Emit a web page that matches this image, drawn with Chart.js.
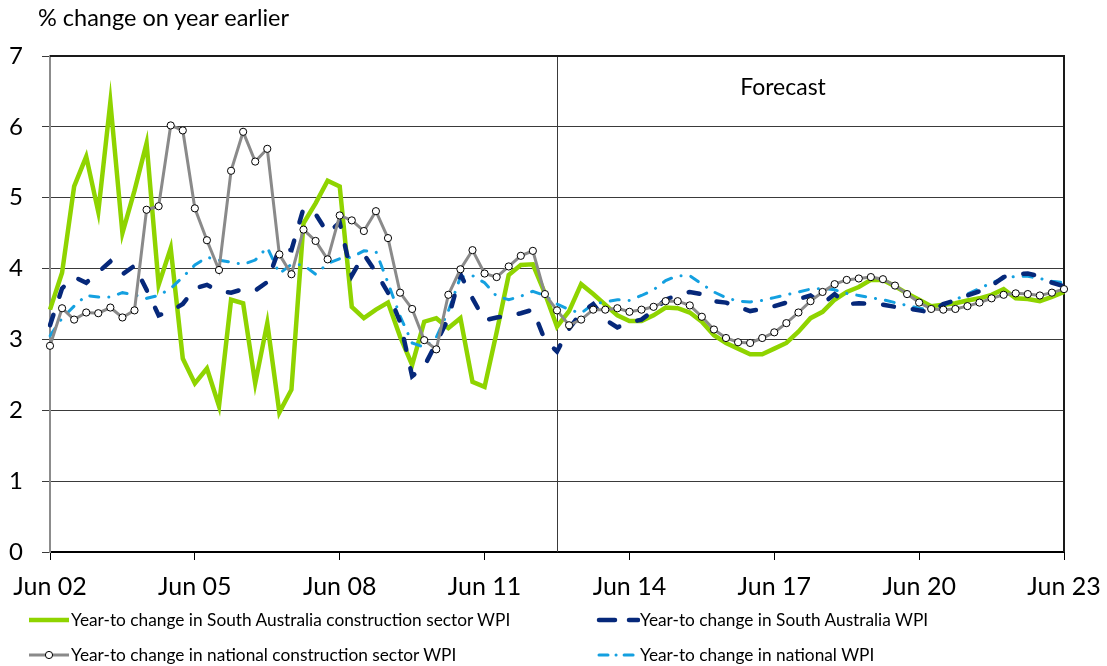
<!DOCTYPE html>
<html><head><meta charset="utf-8">
<script src="https://cdn.jsdelivr.net/npm/chart.js@4.4.1/dist/chart.umd.min.js"></script>
<style>
html,body{margin:0;padding:0;background:#fff;}
#wrap{position:relative;width:1107px;height:666px;font-family:Lato,"Open Sans",sans-serif;color:#000;}
#title{position:absolute;left:38px;top:3px;font-size:23.5px;white-space:nowrap;}
.leg{position:absolute;font-size:17.3px;white-space:nowrap;display:flex;align-items:center;}
.leg svg{display:block;}
</style></head>
<body>
<div id="wrap">
<canvas id="c" width="1107" height="666"></canvas>
<div id="title">% change on year earlier</div>
<div id="legend"></div>
</div>
<script>
// ---- data ----
const categories = [
'Jun 02','Sep 02','Dec 02','Mar 03','Jun 03','Sep 03','Dec 03','Mar 04','Jun 04','Sep 04','Dec 04','Mar 05',
'Jun 05','Sep 05','Dec 05','Mar 06','Jun 06','Sep 06','Dec 06','Mar 07','Jun 07','Sep 07','Dec 07','Mar 08',
'Jun 08','Sep 08','Dec 08','Mar 09','Jun 09','Sep 09','Dec 09','Mar 10','Jun 10','Sep 10','Dec 10','Mar 11',
'Jun 11','Sep 11','Dec 11','Mar 12','Jun 12','Sep 12','Dec 12','Mar 13','Jun 13','Sep 13','Dec 13','Mar 14',
'Jun 14','Sep 14','Dec 14','Mar 15','Jun 15','Sep 15','Dec 15','Mar 16','Jun 16','Sep 16','Dec 16','Mar 17',
'Jun 17','Sep 17','Dec 17','Mar 18','Jun 18','Sep 18','Dec 18','Mar 19','Jun 19','Sep 19','Dec 19','Mar 20',
'Jun 20','Sep 20','Dec 20','Mar 21','Jun 21','Sep 21','Dec 21','Mar 22','Jun 22','Sep 22','Dec 22','Mar 23',
'Jun 23'];
const tickLabels = ['Jun 02','Jun 05','Jun 08','Jun 11','Jun 14','Jun 17','Jun 20','Jun 23'];
const forecastStart = 'Dec 12';
const yTicks = [0,1,2,3,4,5,6,7];

const saConstruction = [
3.42,3.94,5.16,5.58,4.80,6.35,4.50,5.10,5.77,3.77,4.29,2.73,
2.38,2.59,2.06,3.56,3.51,2.38,3.23,1.97,2.29,4.64,4.92,5.24,
5.16,3.46,3.30,3.42,3.52,3.04,2.64,3.25,3.30,3.16,3.30,2.40,
2.33,3.10,3.91,4.05,4.06,3.65,3.18,3.40,3.78,3.64,3.49,3.34,
3.26,3.26,3.34,3.45,3.44,3.38,3.25,3.06,2.95,2.87,2.79,2.79,
2.87,2.95,3.11,3.30,3.39,3.56,3.67,3.74,3.84,3.84,3.75,3.65,
3.56,3.47,3.49,3.51,3.55,3.58,3.63,3.71,3.58,3.57,3.54,3.60,
3.67];
const saWPI = [
3.20,3.72,3.88,3.80,3.95,4.10,3.92,4.04,3.70,3.34,3.40,3.50,
3.72,3.77,3.68,3.66,3.71,3.69,3.81,4.29,4.26,4.85,4.77,4.50,
4.65,3.90,4.20,3.95,3.66,3.25,2.48,2.62,2.95,3.30,3.92,3.58,
3.27,3.31,3.33,3.37,3.42,2.99,2.83,3.15,3.38,3.50,3.28,3.17,
3.24,3.28,3.41,3.56,3.63,3.67,3.64,3.54,3.52,3.46,3.40,3.43,
3.47,3.52,3.57,3.62,3.50,3.64,3.50,3.51,3.50,3.49,3.46,3.44,
3.41,3.38,3.50,3.55,3.62,3.68,3.76,3.88,3.92,3.93,3.89,3.80,
3.75];
const natConstruction = [
2.91,3.44,3.28,3.38,3.37,3.45,3.31,3.41,4.83,4.88,6.02,5.95,
4.85,4.40,3.98,5.38,5.93,5.51,5.69,4.20,3.92,4.55,4.39,4.13,
4.75,4.68,4.53,4.81,4.43,3.66,3.43,2.99,2.86,3.63,3.99,4.26,
3.93,3.88,4.03,4.18,4.25,3.64,3.41,3.20,3.28,3.42,3.42,3.44,
3.39,3.42,3.46,3.54,3.54,3.48,3.32,3.14,3.02,2.96,2.95,3.02,
3.10,3.23,3.38,3.54,3.67,3.78,3.84,3.86,3.88,3.85,3.76,3.64,
3.52,3.43,3.42,3.43,3.47,3.52,3.58,3.63,3.65,3.64,3.62,3.66,
3.71];
const natWPI = [
3.05,3.30,3.47,3.62,3.60,3.60,3.66,3.63,3.58,3.62,3.72,3.88,
4.05,4.16,4.12,4.09,4.06,4.12,4.30,3.93,4.06,4.05,3.92,4.07,
4.14,4.16,4.25,4.24,3.80,3.33,2.95,2.89,3.03,3.40,3.88,3.90,
3.80,3.61,3.56,3.61,3.68,3.62,3.50,3.42,3.37,3.50,3.53,3.56,
3.55,3.62,3.70,3.83,3.90,3.90,3.78,3.67,3.59,3.54,3.53,3.55,
3.59,3.63,3.67,3.71,3.72,3.70,3.65,3.62,3.59,3.56,3.52,3.48,
3.44,3.42,3.48,3.56,3.64,3.72,3.80,3.86,3.89,3.89,3.86,3.82,
3.80];

const seriesNames = [
'Year-to change in South Australia construction sector WPI',
'Year-to change in South Australia WPI',
'Year-to change in national construction sector WPI',
'Year-to change in national WPI'];

// ---- styles ----
const GREEN='#8fd400', NAVY='#06287a', GREY='#8a8a8a', LBLUE='#14a0e0';
const FONT='Lato, "Open Sans", sans-serif';

const framePlugin = {
  id:'frame',
  beforeDatasetsDraw(chart){
    const {ctx, chartArea:a, scales:{x}} = chart;
    ctx.save();
    const fx = Math.round(x.getPixelForValue(categories.indexOf(forecastStart)))+0.5;
    ctx.strokeStyle='#3a3a3a'; ctx.lineWidth=1;
    ctx.beginPath(); ctx.moveTo(fx,a.top); ctx.lineTo(fx,a.bottom); ctx.stroke();
    ctx.strokeStyle='#1a1a1a'; ctx.lineWidth=2;
    ctx.beginPath(); ctx.moveTo(a.left,a.top); ctx.lineTo(a.right,a.top); ctx.lineTo(a.right,a.bottom); ctx.stroke();
    ctx.fillStyle='#000'; ctx.font='23px '+FONT; ctx.textAlign='center'; ctx.textBaseline='middle';
    ctx.fillText('Forecast', 783, 88);
    ctx.restore();
  }
};

new Chart(document.getElementById('c'), {
  type:'line',
  data:{
    labels:categories,
    datasets:[
      {label:seriesNames[2], data:natConstruction, borderColor:GREY, borderWidth:3,
       pointRadius:3.6, pointBackgroundColor:'#fff', pointBorderColor:'#000', pointBorderWidth:1, order:0},
      {label:seriesNames[1], data:saWPI, borderColor:NAVY, borderWidth:4.5, borderDash:[11,19],
       borderCapStyle:'round', pointRadius:0, order:1},
      {label:seriesNames[3], data:natWPI, borderColor:LBLUE, borderWidth:3, borderDash:[9,10,0.1,10],
       borderCapStyle:'round', pointRadius:0, order:2},
      {label:seriesNames[0], data:saConstruction, borderColor:GREEN, borderWidth:4.5, pointRadius:0, order:3}
    ]
  },
  options:{
    responsive:false, animation:false, devicePixelRatio:1,
    layout:{padding:{top:56,right:43,left:0,bottom:0}},
    elements:{line:{tension:0, fill:false}},
    plugins:{legend:{display:false}, tooltip:{enabled:false}, title:{display:false}},
    scales:{
      x:{
        type:'category',
        offset:false,
        afterFit(s){ s.height = 114; s.paddingLeft = 0; s.paddingRight = 0; },
        border:{color:'#000', width:2},
        grid:{drawOnChartArea:false, drawTicks:true, tickLength:8,
          color:(c)=> tickLabels.includes(categories[c.index]) ? '#000' : 'rgba(0,0,0,0)',
          tickColor:(c)=> tickLabels.includes(categories[c.index]) ? '#000' : 'rgba(0,0,0,0)'},
        ticks:{autoSkip:false, maxRotation:0, minRotation:0, padding:12, color:'#000',
          font:{family:FONT, size:25},
          callback:(v,i)=> tickLabels.includes(categories[i]) ? categories[i] : ''}
      },
      y:{
        min:0, max:7,
        afterFit(s){ s.width = 50; },
        afterBuildTicks(s){ s.ticks = yTicks.map(v=>({value:v})); },
        border:{color:'#8c8c8c', width:2},
        grid:{color:'#3a3a3a', lineWidth:1, tickLength:8, drawTicks:true},
        ticks:{padding:19, color:'#000', font:{family:FONT, size:24}}
      }
    }
  },
  plugins:[framePlugin]
});

// ---- legend (HTML) ----
const legend = document.getElementById('legend');
const items = [
  {name:seriesNames[0], x:27, y:620, svg:`<line x1="2" y1="8" x2="42" y2="8" stroke="${GREEN}" stroke-width="4.5"/>`},
  {name:seriesNames[1], x:596, y:620, svg:`<line x1="3" y1="8" x2="42" y2="8" stroke="${NAVY}" stroke-width="4.5" stroke-linecap="round" stroke-dasharray="16,14"/>`},
  {name:seriesNames[2], x:27, y:655, svg:`<line x1="2" y1="8" x2="42" y2="8" stroke="${GREY}" stroke-width="3"/><circle cx="22" cy="8" r="3.6" fill="#fff" stroke="#000" stroke-width="1"/>`},
  {name:seriesNames[3], x:596, y:655, svg:`<line x1="3" y1="8" x2="42" y2="8" stroke="${LBLUE}" stroke-width="3" stroke-linecap="round" stroke-dasharray="9,8,0.1,8"/>`}
];
items.forEach(it=>{
  const d=document.createElement('div');
  d.className='leg';
  d.style.left=it.x+'px'; d.style.top=(it.y-11)+'px';
  d.innerHTML=`<svg width="44" height="16">${it.svg}</svg><span>${it.name}</span>`;
  legend.appendChild(d);
});
</script>
</body></html>
